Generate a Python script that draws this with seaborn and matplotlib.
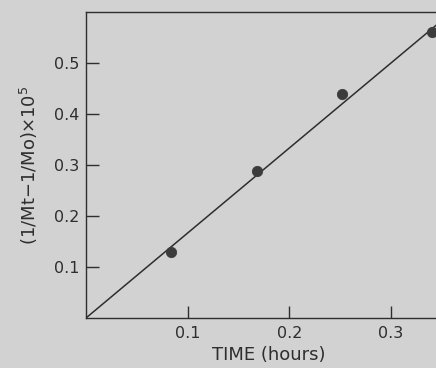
import numpy as np
import pandas as pd
import matplotlib
matplotlib.use("Agg")
import matplotlib.pyplot as plt
import seaborn as sns

# measured points (time in hours)
time_h = [0.084, 0.168, 0.252, 0.340]
inv_diff = [0.130, 0.288, 0.440, 0.560]

# fitted line through the origin
fit_t = [0.0, 0.36]
fit_y = [0.0, 0.60]

xticks = [0.1, 0.2, 0.3]
yticks = [0.1, 0.2, 0.3, 0.4, 0.5]

bg = "#d2d2d2"
ink = "#2e2e2e"

sns.set_style("ticks")
plt.rcParams['font.family'] = ['DejaVu Sans']

fig = plt.figure(figsize=(4.36, 3.68), dpi=100, facecolor=bg)
# axes runs off the right edge, as in the cropped scan
ax = fig.add_axes([86/436, 50/368, 366/436, 306/368], facecolor=bg)

pts = pd.DataFrame({"t": time_h, "y": inv_diff})
fit = pd.DataFrame({"t": fit_t, "y": fit_y})

sns.lineplot(data=fit, x="t", y="y", ax=ax, color=ink, linewidth=1.1)
sns.scatterplot(data=pts, x="t", y="y", ax=ax, color="#3c3c3c", s=55,
                edgecolor="#3c3c3c", zorder=3)

ax.set_xlim(0, 0.36)
ax.set_ylim(0, 0.60)
ax.set_xticks(xticks)
ax.set_yticks(yticks)
ax.set_xticklabels([f"{v:.1f}" for v in xticks])
ax.set_yticklabels([f"{v:.1f}" for v in yticks])
ax.tick_params(direction="in", length=9, width=1.0, color=ink,
               labelcolor=ink, labelsize=11.5)
ax.tick_params(axis="x", pad=6)
ax.tick_params(axis="y", pad=5)

for s in ax.spines.values():
    s.set_color(ink)
    s.set_linewidth(1.0)

ax.set_xlabel("TIME (hours)", fontsize=13, color=ink, labelpad=3)
ax.set_ylabel("(1/Mt\u22121/Mo)\u00d710$^5$", fontsize=13, color=ink, labelpad=10)

fig.savefig("out.png", dpi=100, facecolor=bg)
